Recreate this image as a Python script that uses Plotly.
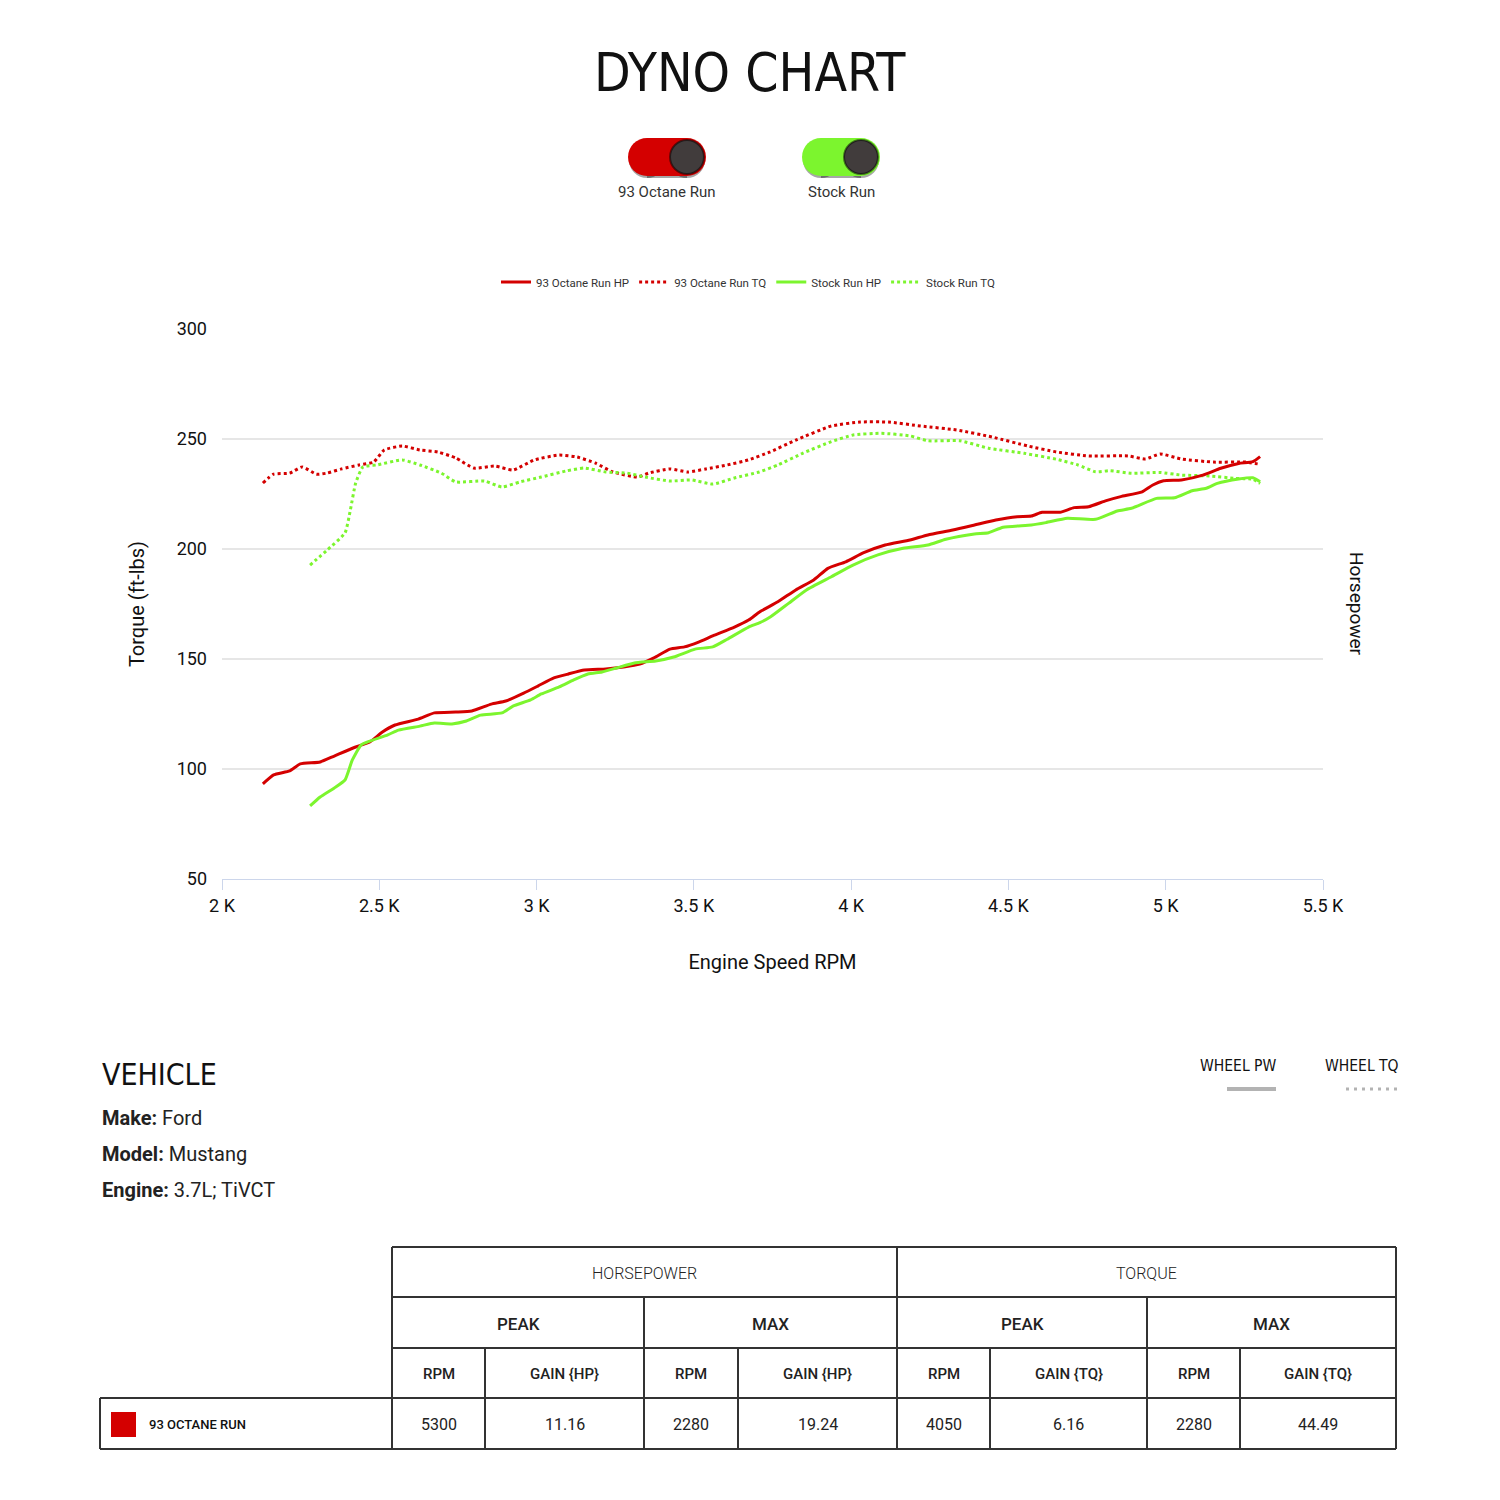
"""
Dyno chart: torque and horsepower curves for two runs, with vehicle info and gain table.
"""
import plotly.graph_objects as go

W = 1500
H = 1500

# ---- curve data (rpm, value) ----
octane_hp_rpm = [2130, 2164, 2215, 2249, 2312, 2357, 2425, 2470, 2510, 2550, 2624, 2675, 2743, 2794,
                 2856, 2902, 2959, 3004, 3055, 3101, 3152, 3220, 3277, 3328, 3373, 3424, 3470, 3515,
                 3560, 3629, 3674, 3710, 3767, 3824, 3881, 3926, 3983, 4040, 4108, 4187, 4244, 4323,
                 4392, 4460, 4528, 4573, 4607, 4664, 4709, 4755, 4811, 4857, 4925, 4959, 4993, 5050,
                 5118, 5175, 5232, 5277, 5300]
octane_hp = [93.2, 97.3, 99.1, 102.3, 103.2, 105.9, 110.0, 112.3, 116.8, 120.0, 122.7, 125.5, 125.9, 126.4,
             129.5, 130.9, 134.5, 137.7, 141.4, 143.2, 145.0, 145.5, 146.4, 147.7, 150.5, 154.5, 155.5, 157.7,
             160.5, 164.5, 167.7, 171.5, 176.0, 181.4, 185.9, 191.2, 194.2, 198.3, 201.8, 204.1, 206.4, 208.6,
             210.9, 213.2, 214.7, 215.0, 216.7, 216.7, 218.8, 219.2, 222.0, 223.8, 226.0, 229.1, 231.0, 231.4,
             233.6, 236.7, 238.9, 239.7, 242.0]

octane_tq_rpm = [2130, 2164, 2215, 2255, 2300, 2334, 2380, 2436, 2482, 2516, 2573, 2629, 2686, 2743,
                 2800, 2868, 2925, 2993, 3072, 3129, 3186, 3243, 3322, 3356, 3424, 3481, 3538, 3606,
                 3674, 3740, 3824, 3937, 4028, 4119, 4221, 4335, 4448, 4562, 4653, 4755, 4880, 4936,
                 4982, 5050, 5152, 5254, 5300]
octane_tq = [230.0, 234.0, 234.5, 237.3, 234.0, 234.5, 236.4, 238.2, 239.5, 245.0, 246.8, 245.0, 244.1, 241.4,
             236.8, 237.7, 235.9, 240.5, 242.7, 241.8, 239.1, 235.0, 232.7, 234.5, 236.4, 235.0, 236.4, 238.2,
             240.5, 244.0, 249.5, 255.9, 257.7, 257.7, 255.9, 254.1, 250.9, 246.8, 244.1, 242.3, 242.3, 240.9,
             243.2, 240.9, 239.5, 239.5, 238.5]

stock_hp_rpm = [2280, 2312, 2357, 2391, 2414, 2442, 2470, 2527, 2561, 2629, 2675, 2731, 2777, 2822,
                2890, 2925, 2981, 3015, 3072, 3118, 3163, 3208, 3254, 3311, 3379, 3436, 3504, 3560,
                3606, 3674, 3710, 3744, 3801, 3858, 3937, 4006, 4085, 4165, 4244, 4301, 4392, 4437,
                4483, 4573, 4619, 4687, 4777, 4846, 4891, 4971, 5028, 5084, 5129, 5164, 5232, 5277, 5300]
stock_hp = [83.2, 87.3, 91.4, 95.0, 104.0, 110.9, 112.7, 115.5, 117.7, 119.5, 120.9, 120.5, 121.8, 124.5,
            125.5, 128.6, 131.4, 134.1, 137.3, 140.5, 143.2, 144.1, 145.9, 148.2, 149.1, 150.9, 154.5, 155.5,
            159.0, 164.5, 166.5, 169.2, 175.3, 181.4, 187.4, 192.7, 197.3, 200.3, 201.8, 204.4, 206.8, 207.4,
            209.9, 210.9, 212.0, 214.0, 213.5, 217.3, 218.5, 223.0, 223.3, 226.5, 227.6, 229.8, 231.8, 232.4, 230.6]

stock_tq_rpm = [2280, 2334, 2391, 2408, 2425, 2448, 2493, 2573, 2629, 2697, 2743, 2834, 2890, 2947,
                3015, 3095, 3152, 3220, 3288, 3345, 3424, 3492, 3560, 3629, 3708, 3767, 3847, 3937,
                4006, 4096, 4187, 4244, 4346, 4437, 4550, 4653, 4721, 4777, 4823, 4891, 4982, 5050,
                5141, 5220, 5277, 5300]
stock_tq = [192.7, 199.5, 207.3, 217.7, 230.0, 237.3, 238.2, 240.5, 238.2, 234.5, 230.5, 230.9, 228.2, 230.5,
            232.7, 235.5, 236.8, 235.0, 234.5, 232.7, 230.9, 231.4, 229.5, 232.3, 235.0, 238.2, 243.6, 248.8,
            251.8, 252.6, 251.4, 249.2, 249.2, 245.8, 243.5, 240.8, 238.2, 235.1, 235.6, 234.4, 234.8, 233.6,
            233.2, 232.1, 231.7, 229.8]

x_ticks = [2000, 2500, 3000, 3500, 4000, 4500, 5000, 5500]
x_tick_labels = ["2 K", "2.5 K", "3 K", "3.5 K", "4 K", "4.5 K", "5 K", "5.5 K"]

run_names = ["93 Octane Run", "Stock Run"]

vehicle_labels = ["Make:", "Model:", "Engine:"]
vehicle_values = ["Ford", "Mustang", "3.7L; TiVCT"]

group_headers = ["HORSEPOWER", "TORQUE"]
sub_headers = ["PEAK", "MAX", "PEAK", "MAX"]
col_headers = ["RPM", "GAIN {HP}", "RPM", "GAIN {HP}", "RPM", "GAIN {TQ}", "RPM", "GAIN {TQ}"]
table_run = "93 OCTANE RUN"
table_values = ["5300", "11.16", "2280", "19.24", "4050", "6.16", "2280", "44.49"]

RED = "#d40000"
GREEN = "#7cf52e"
NARROW = "Noto Sans ExtraCondensed, Noto Sans Condensed, DejaVu Sans Condensed, Roboto"


def px(x):
    return x / W


def py(y):
    return 1 - y / H


def label(x, y, text, size, family="Roboto", color="#222", weight=400, xanchor="center", angle=0):
    annotations.append(dict(x=px(x), y=py(y), xref="paper", yref="paper", text=text, showarrow=False,
                            xanchor=xanchor, yanchor="middle", textangle=angle,
                            font=dict(family=family, size=size, color=color, weight=weight)))


fig = go.Figure()

fig.add_trace(go.Scatter(x=octane_hp_rpm, y=octane_hp, name="93 Octane Run HP", yaxis="y2",
                         mode="lines", line=dict(color=RED, width=3, shape="spline", smoothing=0.5)))
fig.add_trace(go.Scatter(x=octane_tq_rpm, y=octane_tq, name="93 Octane Run TQ",
                         mode="lines", line=dict(color=RED, width=3, dash="dot", shape="spline", smoothing=0.5)))
fig.add_trace(go.Scatter(x=stock_hp_rpm, y=stock_hp, name="Stock Run HP", yaxis="y2",
                         mode="lines", line=dict(color=GREEN, width=3, shape="spline", smoothing=0.5)))
fig.add_trace(go.Scatter(x=stock_tq_rpm, y=stock_tq, name="Stock Run TQ",
                         mode="lines", line=dict(color=GREEN, width=3, dash="dot", shape="spline", smoothing=0.5)))

shapes = []
annotations = []

# title
label(750, 73, "DYNO CHART", 53, family=NARROW, color="#111", weight=300)


def pill(cx, cy, half_w, r, color):
    for ex in (cx - half_w + r, cx + half_w - r):
        shapes.append(dict(type="circle", xref="paper", yref="paper", x0=px(ex - r), x1=px(ex + r),
                           y0=py(cy + r), y1=py(cy - r), fillcolor=color, line_width=0))
    shapes.append(dict(type="rect", xref="paper", yref="paper", x0=px(cx - half_w + r), x1=px(cx + half_w - r),
                       y0=py(cy + r), y1=py(cy - r), fillcolor=color, line_width=0))


# toggle switches
for cx, color, name in [(667, RED, run_names[0]), (841, GREEN, run_names[1])]:
    pill(cx, 160, 38, 18, "rgba(0,0,0,0.35)")
    pill(cx, 157, 39, 19, color)
    kx = cx + 20
    shapes.append(dict(type="circle", xref="paper", yref="paper", x0=px(kx - 17), x1=px(kx + 17),
                       y0=py(157 + 17), y1=py(157 - 17), fillcolor="#413c3c",
                       line=dict(color="rgba(0,0,0,0.5)", width=2)))
    label(cx, 192, name, 15, color="#333")

# right axis title
label(1357, 604, "Horsepower", 19, color="#111", angle=90)

# vehicle block
label(100, 1074, "VEHICLE", 30, family=NARROW, color="#111", weight=300, xanchor="left")
for i, (lab, val) in enumerate(zip(vehicle_labels, vehicle_values)):
    label(100, 1118 + 36 * i, "<b>%s</b> %s" % (lab, val), 20, xanchor="left")

# wheel pw / tq switches
label(1238, 1066, "WHEEL PW", 15.5, family=NARROW, color="#111")
label(1362, 1066, "WHEEL TQ", 15.5, family=NARROW, color="#111")
shapes.append(dict(type="line", xref="paper", yref="paper", x0=px(1227), x1=px(1276), y0=py(1089), y1=py(1089),
                   line=dict(color="#b3b3b3", width=4)))
shapes.append(dict(type="line", xref="paper", yref="paper", x0=px(1346), x1=px(1400), y0=py(1089), y1=py(1089),
                   line=dict(color="#b3b3b3", width=3, dash="3px,5px")))

# gain table
col_edges = [392, 485, 644, 738, 897, 990, 1147, 1240, 1396]
row_edges = [1247, 1297, 1348, 1398, 1449]
BORDER = dict(color="#333", width=2)


def hline(y, x0, x1):
    shapes.append(dict(type="line", xref="paper", yref="paper", x0=px(x0), x1=px(x1), y0=py(y), y1=py(y),
                       line=BORDER))


def vline(x, y0, y1):
    shapes.append(dict(type="line", xref="paper", yref="paper", x0=px(x), x1=px(x), y0=py(y0), y1=py(y1),
                       line=BORDER))


for y in row_edges[:3]:
    hline(y, col_edges[0], col_edges[-1])
for y in row_edges[3:]:
    hline(y, 100, col_edges[-1])
vline(100, row_edges[3], row_edges[4])
for x in (col_edges[0], col_edges[4], col_edges[8]):
    vline(x, row_edges[0], row_edges[4])
for x in (col_edges[2], col_edges[6]):
    vline(x, row_edges[1], row_edges[4])
for x in (col_edges[1], col_edges[3], col_edges[5], col_edges[7]):
    vline(x, row_edges[2], row_edges[4])


def cell_text(c0, c1, row, text, size, weight):
    label((col_edges[c0] + col_edges[c1]) / 2, (row_edges[row] + row_edges[row + 1]) / 2 + 1,
          text, size, weight=weight)


for i, t in enumerate(group_headers):
    cell_text(4 * i, 4 * i + 4, 0, t, 16, 300)
for i, t in enumerate(sub_headers):
    cell_text(2 * i, 2 * i + 2, 1, t, 17, 500)
for i, t in enumerate(col_headers):
    cell_text(i, i + 1, 2, t, 15, 500)
for i, t in enumerate(table_values):
    cell_text(i, i + 1, 3, t, 16, 400)

shapes.append(dict(type="rect", xref="paper", yref="paper", x0=px(111), x1=px(136), y0=py(1437), y1=py(1412),
                   fillcolor=RED, line_width=0))
label(147, 1424, table_run, 13, color="#111", weight=500, xanchor="left")

fig.update_layout(
    template="none",
    width=W,
    height=H,
    margin=dict(l=0, r=0, t=0, b=0),
    paper_bgcolor="white",
    plot_bgcolor="white",
    shapes=shapes,
    annotations=annotations,
    legend=dict(orientation="h", x=px(748), y=py(282), xanchor="center", yanchor="middle",
                font=dict(family="Roboto", size=11.5, color="#333"), itemwidth=30),
    xaxis=dict(
        domain=[px(222), px(1323)],
        range=[2000, 5500],
        automargin=False,
        tickvals=x_ticks,
        ticktext=x_tick_labels,
        ticks="outside",
        ticklen=10,
        tickcolor="#ccd6eb",
        showline=True,
        linecolor="#ccd6eb",
        showgrid=False,
        zeroline=False,
        tickfont=dict(family="Roboto", size=18, color="#111"),
        title=dict(text="Engine Speed RPM", standoff=40,
                   font=dict(family="Roboto", size=20, color="#111")),
    ),
    yaxis=dict(
        domain=[py(879), py(329)],
        range=[50, 300],
        automargin=False,
        dtick=50,
        gridcolor="#e6e6e6",
        gridwidth=1.5,
        zeroline=False,
        ticks="",
        ticklabelstandoff=14,
        tickfont=dict(family="Roboto", size=18, color="#111"),
        title=dict(text="Torque (ft-lbs)", standoff=26,
                   font=dict(family="Roboto", size=20, color="#111")),
    ),
    yaxis2=dict(
        overlaying="y",
        side="right",
        range=[50, 300],
        automargin=False,
        showgrid=False,
        showticklabels=False,
        zeroline=False,
    ),
)

fig.write_html("out.html", config={"displayModeBar": False},
               post_script="document.body.style.margin='0px';")
